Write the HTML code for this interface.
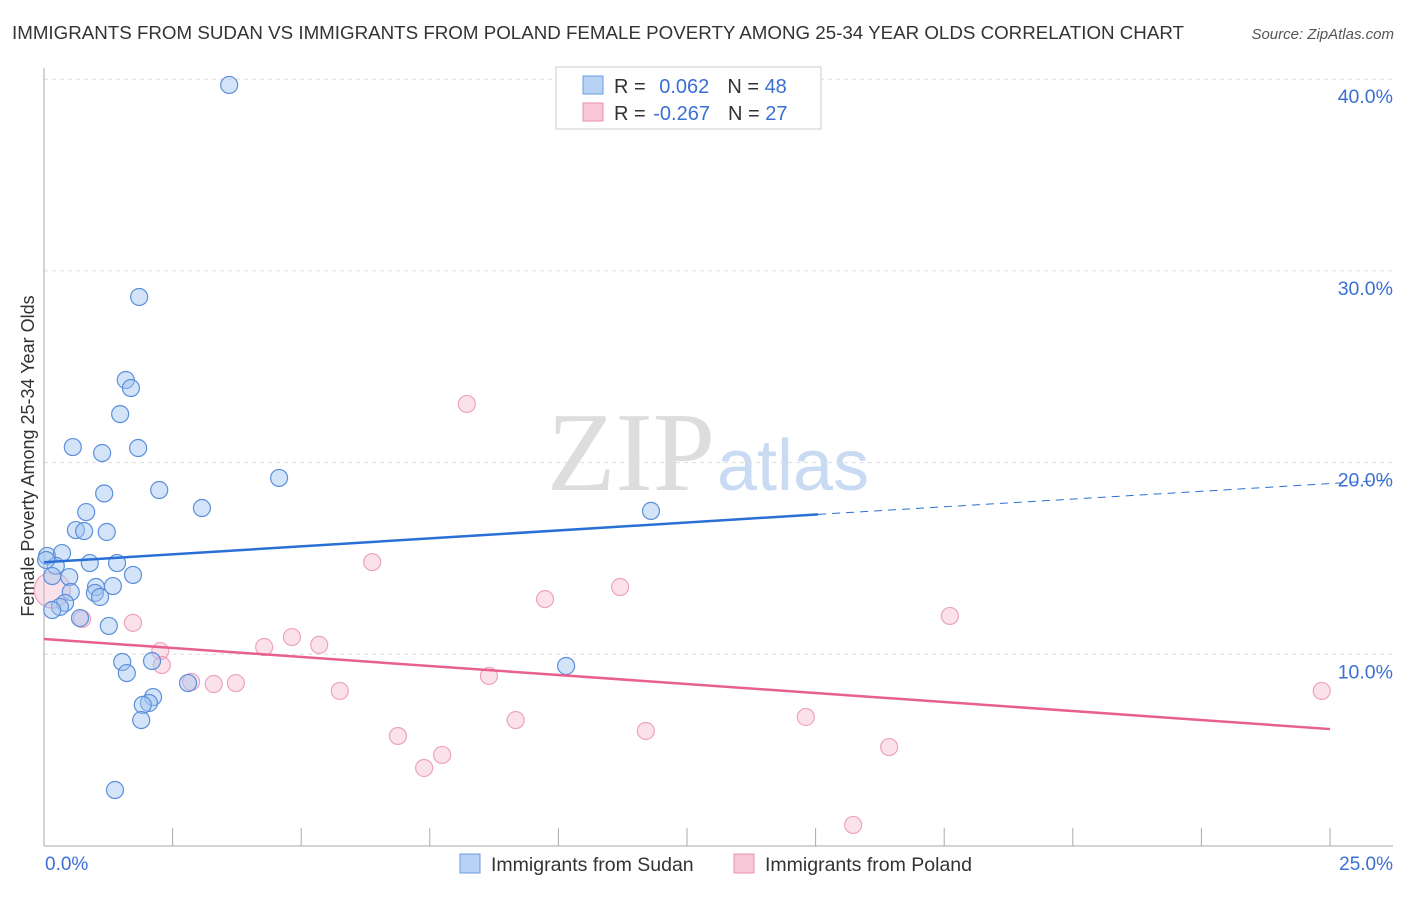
<!DOCTYPE html>
<html><head><meta charset="utf-8"><style>
body{margin:0;background:#fff;font-family:"Liberation Sans",sans-serif}
</style></head><body>
<svg id="c" width="1406" height="892" xmlns="http://www.w3.org/2000/svg" style="font-family:'Liberation Sans',sans-serif">
<text x="12" y="39" font-size="18" fill="#333" textLength="1172" lengthAdjust="spacingAndGlyphs">IMMIGRANTS FROM SUDAN VS IMMIGRANTS FROM POLAND FEMALE POVERTY AMONG 25-34 YEAR OLDS CORRELATION CHART</text>
<text x="1394" y="39" font-size="15" fill="#555" font-style="italic" text-anchor="end">Source: ZipAtlas.com</text>
<text x="715" y="490" font-size="112" fill="#ddd" text-anchor="end" font-family="Liberation Serif,serif">ZIP</text>
<text x="717" y="490" font-size="72" fill="#c9daf3">atlas</text>
<g id="grid"></g><g id="ax"></g><g id="pts"></g><g id="lines"></g>
<text transform="translate(34,456) rotate(-90)" font-size="18" fill="#333" text-anchor="middle">Female Poverty Among 25-34 Year Olds</text>
<text x="45" y="870" font-size="19" fill="#3b6fd4">0.0%</text>
<text x="1393" y="870" font-size="19" fill="#3b6fd4" text-anchor="end">25.0%</text>
<g>
<rect x="556" y="67" width="265" height="62" fill="#fff" stroke="#ccc"/>
<rect x="583" y="76" width="20" height="18" fill="#b8d2f5" stroke="#6e9be0"/>
<rect x="583" y="103" width="20" height="18" fill="#f9c8d8" stroke="#e891b0"/>
<text x="614" y="93" font-size="20" fill="#333">R = <tspan fill="#3b6fd4" dx="8">0.062</tspan><tspan dx="18" fill="#333">N = </tspan><tspan fill="#3b6fd4">48</tspan></text>
<text x="614" y="120" font-size="20" fill="#333">R = <tspan fill="#3b6fd4" dx="2">-0.267</tspan><tspan dx="18" fill="#333">N = </tspan><tspan fill="#3b6fd4">27</tspan></text>
</g>
<g><rect x="460" y="854" width="20" height="19" fill="#b8d2f5" stroke="#6e9be0"/><text x="491" y="871" font-size="19.5" fill="#333">Immigrants from Sudan</text></g>
<g><rect x="734" y="854" width="20" height="19" fill="#f9c8d8" stroke="#e891b0"/><text x="765" y="871" font-size="19.5" fill="#333">Immigrants from Poland</text></g>
</svg>
<script>
const yTicks=[10,20,30,40];
const xTicks=[0,2.5,5,7.5,10,12.5,15,17.5,20,22.5,25];
const sudanX=[3.60,1.85,1.59,1.69,1.48,0.56,1.13,1.83,1.17,2.24,4.57,3.07,0.82,0.62,0.78,1.22,11.80,0.06,0.35,0.23,0.89,1.42,1.73,0.16,0.49,1.01,1.34,0.52,0.99,1.09,0.41,0.31,0.16,0.70,1.26,1.52,1.61,2.10,2.80,2.12,2.04,1.92,1.89,1.38,10.15,0.04];
const sudanY=[39.70,28.64,24.31,23.89,22.53,20.81,20.50,20.76,18.39,18.57,19.20,17.63,17.42,16.48,16.43,16.38,17.48,15.13,15.28,14.61,14.76,14.76,14.14,14.08,14.03,13.51,13.56,13.25,13.20,12.99,12.68,12.47,12.31,11.89,11.48,9.60,9.02,9.65,8.50,7.77,7.46,7.36,6.57,2.92,9.39,14.92];
const polandX=[8.22,6.38,9.74,11.20,17.61,24.84,2.26,1.73,0.74,2.29,2.86,3.30,3.73,4.28,4.82,5.35,5.75,8.65,9.17,6.88,7.74,7.39,11.70,14.81,16.43,15.73,0.16];
const polandY=[23.06,14.81,12.88,13.51,12.00,8.09,10.17,11.64,11.84,9.44,8.56,8.45,8.50,10.38,10.90,10.49,8.09,8.87,6.57,5.74,4.75,4.07,6.00,6.73,5.16,1.10,13.35];
const sudanTrend=[14.80,17.30,19.10];
const polandTrend=[10.8,6.1];
const X=v=>44+v*51.44, Y=v=>846-v*19.17;
const NS="http://www.w3.org/2000/svg";
function mk(t,a,p){const e=document.createElementNS(NS,t);for(const k in a)e.setAttribute(k,a[k]);p.appendChild(e);return e;}
const g=document.getElementById('grid'),ax=document.getElementById('ax'),pts=document.getElementById('pts'),ln=document.getElementById('lines');
yTicks.forEach(t=>{
 const l=mk('line',{x1:44,x2:1393,y1:Y(t),y2:Y(t),stroke:'#ddd','stroke-dasharray':'4,4'},g);
 
 
 const tx=mk('text',{x:1393,y:Y(t)+24,'font-size':19.5,fill:'#3b6fd4','text-anchor':'end'},g);
 tx.textContent=t.toFixed(1)+'%';
 
 
});
const a1=mk('line',{x1:44,x2:44,y1:68,y2:846,stroke:'#aaa'},ax);


const a2=mk('line',{x1:44,x2:1393,y1:846,y2:846,stroke:'#aaa'},ax);


xTicks.forEach(t=>{
 const l=mk('line',{x1:X(t),x2:X(t),y1:828,y2:846,stroke:'#aaa'},ax);
 
 
});
polandX.forEach((x,i)=>{
 const r=i===polandX.length-1?18:8.5;
 const c=mk('circle',{cx:X(x),cy:Y(polandY[i]),r:r,fill:'rgba(244,170,195,0.35)',stroke:'#eea3be','stroke-width':1.2},pts);
 
 
});
sudanX.forEach((x,i)=>{
 const c=mk('circle',{cx:X(x),cy:Y(sudanY[i]),r:8.5,fill:'rgba(160,195,240,0.45)',stroke:'#5b8fdc','stroke-width':1.2},pts);
 
 
});
const s1=mk('line',{x1:X(0),y1:Y(sudanTrend[0]),x2:X(15.05),y2:Y(sudanTrend[1]),stroke:'#2a6fd6','stroke-width':2.5},ln);


const s2=mk('line',{x1:X(15.05),y1:Y(sudanTrend[1]),x2:X(26.2),y2:Y(sudanTrend[2]),stroke:'#2a6fd6','stroke-width':1,'stroke-dasharray':'8,6'},ln);


const p1=mk('line',{x1:X(0),y1:Y(polandTrend[0]),x2:X(25),y2:Y(polandTrend[1]),stroke:'#e8608f','stroke-width':2.5},ln);


</script>
</body></html>
